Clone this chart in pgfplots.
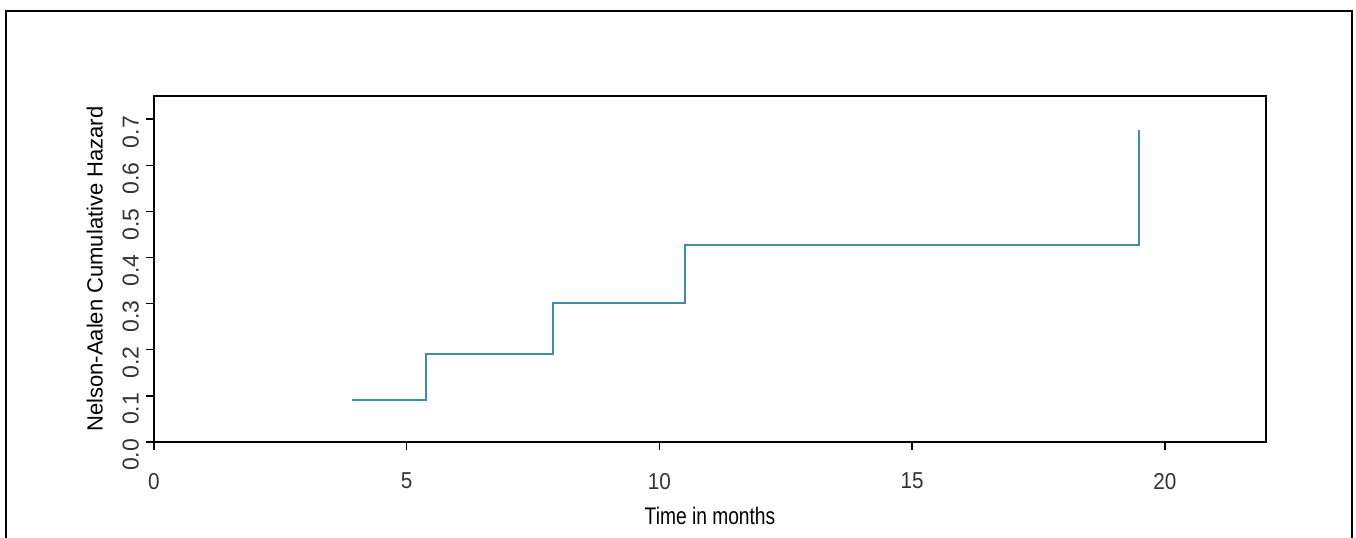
\documentclass[border=0pt]{standalone}
\usepackage{pgfplots}
\pgfplotsset{compat=1.18}
\usepackage{fontspec}
\setmainfont{Liberation Sans}
\definecolor{naline}{RGB}{64,142,158}
\begin{document}
\begin{tikzpicture}
\useasboundingbox (0pt,0pt) rectangle (678pt,268.5pt);
\draw[line width=1pt] (3pt,-10pt) -- (3pt,263pt) -- (676pt,263pt) -- (676pt,-10pt);
\begin{axis}[
  at={(77pt,47.5pt)}, anchor=south west,
  scale only axis,
  width=556pt, height=173pt,
  xmin=0, xmax=22, ymin=0, ymax=0.75,
  xtick={0,5,10,15,20},
  ytick={0,0.1,0.2,0.3,0.4,0.5,0.6,0.7},
  yticklabels={0.0,0.1,0.2,0.3,0.4,0.5,0.6,0.7},
  tick align=outside,
  major tick length=4pt,
  xtick pos=bottom, ytick pos=left,
  axis line style={line width=0.9pt},
  every tick/.style={black, line width=0.7pt},
  tick label style={font=\fontsize{11.5}{13}\selectfont, text=black!80},
  /pgf/number format/assume math mode=true,
  xticklabel style={yshift=-8pt, xscale=0.9},
  yticklabel style={rotate=90, anchor=south, xshift=-6.5pt},
  xlabel={\scalebox{0.8}[1]{Time in months}},
  xlabel style={font=\fontsize{12}{14}\selectfont, yshift=-2pt},
  ylabel={Nelson-Aalen Cumulative Hazard},
  ylabel style={font=\fontsize{11}{13}\selectfont, yshift=3pt},
  clip=false,
]
\addplot[const plot mark left, naline, line width=1pt] coordinates {
  (3.92,0.0909) (5.39,0.1909) (7.90,0.3020) (10.50,0.4270) (19.49,0.6770)
};
\draw[line width=1.4pt] (axis cs:0,0) -- (axis cs:22,0);
\end{axis}
\end{tikzpicture}
\end{document}
